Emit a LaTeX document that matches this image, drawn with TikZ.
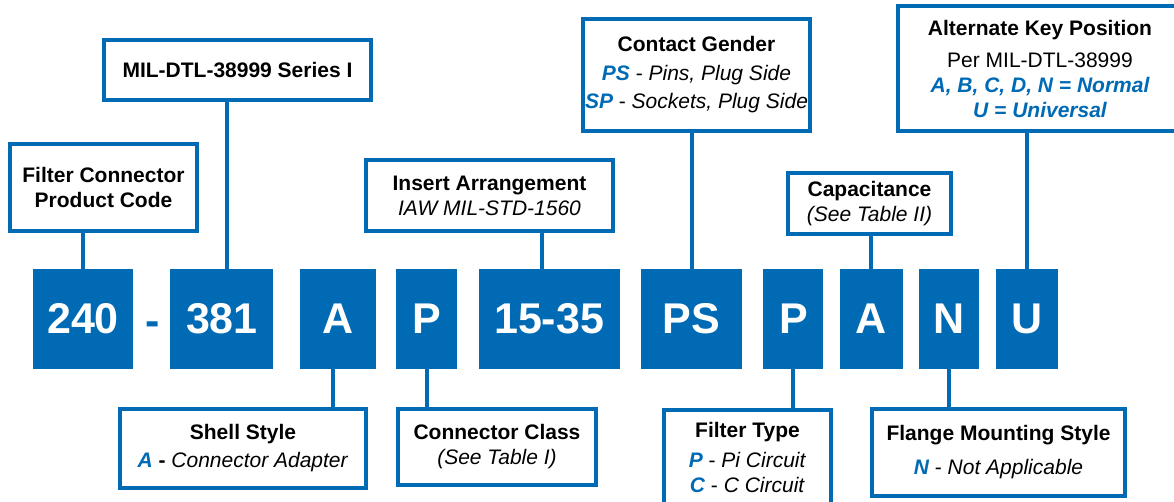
\documentclass[tikz,border=0pt]{standalone}
\usepackage{fontspec}
\setmainfont{Liberation Sans}
\usetikzlibrary{positioning}
\definecolor{codeblue}{HTML}{006AB4}
\newcommand{\keyval}[1]{\textcolor{codeblue}{\bfseries\itshape #1}}

\begin{document}
\begin{tikzpicture}[x=1pt,y=-1pt,
  code/.style={fill=codeblue,text=white,minimum height=100pt,inner sep=0pt,font=\fontsize{43}{50}\selectfont\bfseries},
  callout/.style={draw=codeblue,line width=4pt,fill=white,align=center,inner sep=0pt,font=\fontsize{21}{25}\selectfont},
  link/.style={draw=codeblue,line width=4pt}]
  \useasboundingbox (0,0) rectangle (1174,501);
  % part number blocks
  \node[code,minimum width=100pt] (c240) at (83,319) {240};
  \node[code,minimum width=103pt,right=37pt of c240] (c381) {381};
  \node[code,minimum width=76pt,right=26pt of c381]  (cshell) {A};
  \node[code,minimum width=61pt,right=20pt of cshell] (cclass) {P};
  \node[code,minimum width=141pt,right=21pt of cclass] (cinsert) {15-35};
  \node[code,minimum width=101pt,right=21pt of cinsert] (cgender) {PS};
  \node[code,minimum width=60pt,right=21pt of cgender] (cfilter) {P};
  \node[code,minimum width=63pt,right=16pt of cfilter] (ccap) {A};
  \node[code,minimum width=60pt,right=16pt of ccap]   (cflange) {N};
  \node[code,minimum width=62pt,right=16pt of cflange] (ckey) {U};
  \node[font=\fontsize{43}{50}\selectfont\bfseries,text=codeblue,inner sep=0pt,anchor=base] (dash) at (152.5,335) {-};
  % callouts above
  \node[callout,minimum width=187pt,minimum height=87pt] (fcpc) at (103.5,187.5)
    {\textbf{Filter Connector}\\\textbf{Product Code}};
  \node[callout,minimum width=267pt,minimum height=60pt] (mil) at (237.5,70)
    {\textbf{MIL-DTL-38999 Series I}};
  \node[callout,minimum width=247pt,minimum height=71pt] (insert) at (489.5,195.5)
    {\textbf{Insert Arrangement}\\\textit{IAW MIL-STD-1560}};
  \node[callout,minimum width=227pt,minimum height=112pt] (gender) at (696.5,75)
    {\textbf{Contact Gender}\\[4pt]\keyval{PS} - \textit{Pins, Plug Side}\\[3pt]\keyval{SP} - \textit{Sockets, Plug Side}};
  \node[callout,minimum width=163pt,minimum height=61pt] (cap) at (869.5,203.5)
    {\textbf{Capacitance}\\\textit{(See Table II)}};
  \node[callout,minimum width=284pt,minimum height=125pt] (key) at (1040,68.5)
    {\textbf{Alternate Key Position}\\[7pt]Per MIL-DTL-38999\\\keyval{A, B, C, D, N = Normal}\\\keyval{U = Universal}};
  % callouts below
  \node[callout,minimum width=246pt,minimum height=79pt] (shell) at (243,448.5)
    {\textbf{Shell Style}\\[3pt]\keyval{A} \textbf{-} \textit{Connector Adapter}};
  \node[callout,minimum width=198pt,minimum height=76pt] (class) at (497,447)
    {\textbf{Connector Class}\\\textit{(See Table I)}};
  \node[callout,minimum width=167pt,minimum height=94pt] (filter) at (747.5,457)
    {\textbf{Filter Type}\\[5pt]\keyval{P} - \textit{Pi Circuit}\\\keyval{C} - \textit{C Circuit}};
  \node[callout,minimum width=253pt,minimum height=87pt] (flange) at (998.5,452.5)
    {\textbf{Flange Mounting Style}\\[9pt]\keyval{N} - \textit{Not Applicable}};
  % leader lines
  \draw[link] (c240.north) -- (c240.north |- fcpc.south);
  \draw[link] ([xshift=5pt]c381.north) -- ([xshift=5pt]c381.north |- mil.south);
  \draw[link] ([xshift=-7pt]cinsert.north) -- ([xshift=-7pt]cinsert.north |- insert.south);
  \draw[link] (cgender.north) -- (cgender.north |- gender.south);
  \draw[link] (ccap.north) -- (ccap.north |- cap.south);
  \draw[link] (ckey.north) -- (ckey.north |- key.south);
  \draw[link] ([xshift=-5pt]cshell.south) -- ([xshift=-5pt]cshell.south |- shell.north);
  \draw[link] (cclass.south) -- (cclass.south |- class.north);
  \draw[link] (cfilter.south) -- (cfilter.south |- filter.north);
  \draw[link] (cflange.south) -- (cflange.south |- flange.north);
\end{tikzpicture}
\end{document}
